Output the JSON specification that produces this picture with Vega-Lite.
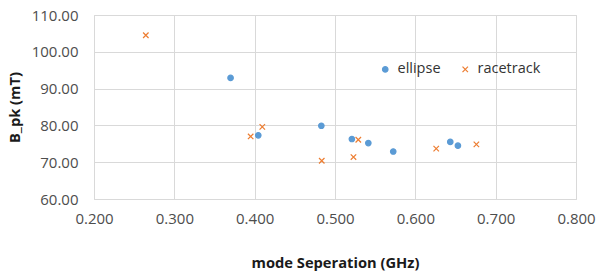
{
  "$schema": "https://vega.github.io/schema/vega-lite/v6.json",
  "width": 482,
  "height": 184,
  "autosize": "none",
  "padding": {"left": 94, "top": 15, "right": 21, "bottom": 77},
  "background": "white",
  "config": {
    "view": {"stroke": "#d9d9d9"},
    "font": "Open Sans"
  },
  "data": {
    "values": [
      {"sep": 0.370, "bpk": 92.9, "type": "ellipse"},
      {"sep": 0.4045, "bpk": 77.3, "type": "ellipse"},
      {"sep": 0.483, "bpk": 79.9, "type": "ellipse"},
      {"sep": 0.521, "bpk": 76.3, "type": "ellipse"},
      {"sep": 0.5415, "bpk": 75.2, "type": "ellipse"},
      {"sep": 0.5725, "bpk": 72.9, "type": "ellipse"},
      {"sep": 0.6435, "bpk": 75.5, "type": "ellipse"},
      {"sep": 0.653, "bpk": 74.5, "type": "ellipse"},
      {"sep": 0.2645, "bpk": 104.5, "type": "racetrack"},
      {"sep": 0.395, "bpk": 77.0, "type": "racetrack"},
      {"sep": 0.4095, "bpk": 79.6, "type": "racetrack"},
      {"sep": 0.4835, "bpk": 70.4, "type": "racetrack"},
      {"sep": 0.523, "bpk": 71.4, "type": "racetrack"},
      {"sep": 0.529, "bpk": 76.1, "type": "racetrack"},
      {"sep": 0.626, "bpk": 73.7, "type": "racetrack"},
      {"sep": 0.676, "bpk": 74.85, "type": "racetrack"}
    ]
  },
  "mark": {"type": "point", "filled": true, "size": 30, "strokeWidth": 1.2, "opacity": 1},
  "encoding": {
    "x": {
      "field": "sep", "type": "quantitative",
      "scale": {"domain": [0.2, 0.8], "nice": false, "zero": false},
      "axis": {
        "title": "mode Seperation (GHz)",
        "values": [0.2, 0.3, 0.4, 0.5, 0.6, 0.7, 0.8],
        "format": ".3f",
        "grid": true, "gridColor": "#d9d9d9", "domain": false, "ticks": false,
        "labelFont": "Open Sans", "labelFontSize": 15, "labelColor": "#4d4d4d",
        "labelPadding": 12, "labelFlush": false,
        "titleFont": "Open Sans", "titleFontSize": 14.7, "titleFontWeight": "bold", "titleColor": "#1a1a1a",
        "titlePadding": 29
      }
    },
    "y": {
      "field": "bpk", "type": "quantitative",
      "scale": {"domain": [60, 110], "nice": false, "zero": false},
      "axis": {
        "title": "B_pk (mT)",
        "values": [60, 70, 80, 90, 100, 110],
        "format": ".2f",
        "grid": true, "gridColor": "#d9d9d9", "domain": false, "ticks": false,
        "labelFont": "Open Sans", "labelFontSize": 15, "labelColor": "#4d4d4d",
        "labelPadding": 16, "labelFlush": false,
        "titleFont": "Open Sans", "titleFontSize": 14.7, "titleFontWeight": "bold", "titleColor": "#1a1a1a",
        "titlePadding": 9
      }
    },
    "color": {
      "field": "type", "type": "nominal",
      "scale": {"domain": ["ellipse", "racetrack"], "range": ["#5B9BD5", "#ED7D31"]},
      "legend": {
        "title": null, "orient": "none", "direction": "horizontal",
        "legendX": 284, "legendY": 47,
        "labelFont": "Open Sans", "labelFontSize": 14.5, "labelColor": "#333333",
        "symbolSize": 30, "columnPadding": 17, "labelOffset": 5, "symbolStrokeWidth": 1.2
      }
    },
    "stroke": {
      "field": "type", "type": "nominal",
      "scale": {"domain": ["ellipse", "racetrack"], "range": ["#5B9BD5", "#ED7D31"]}
    },
    "shape": {
      "field": "type", "type": "nominal",
      "scale": {"domain": ["ellipse", "racetrack"], "range": ["circle", "M-1,-1L1,1M1,-1L-1,1"]}
    }
  }
}
